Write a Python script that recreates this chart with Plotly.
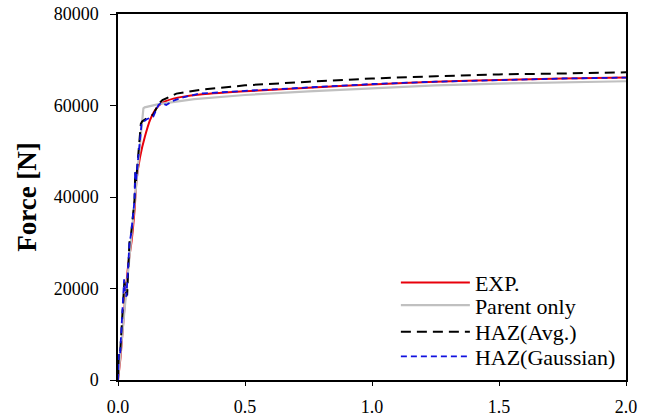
import plotly.graph_objects as go

# Displacement [mm] and force [N]
exp_x = [0.0, 0.01, 0.02, 0.03, 0.04, 0.054, 0.065, 0.073, 0.087, 0.106, 0.126, 0.146, 0.172, 0.218, 0.323, 0.5, 0.75, 1.0, 1.25, 1.5, 1.75, 2.0]
exp_y = [0, 5000, 12000, 19000, 25000, 30600, 37000, 43700, 48800, 53200, 56800, 59000, 60500, 61500, 62400, 63100, 63900, 64600, 65200, 65600, 65900, 66100]

parent_x = [0.0, 0.05, 0.1, 0.105, 0.16, 0.3, 0.5, 0.75, 1.0, 1.25, 1.5, 1.75, 2.0]
parent_y = [0, 29700, 59400, 59600, 60300, 61400, 62300, 63100, 63800, 64400, 64800, 65100, 65300]

hazavg_x = [0.0, 0.003, 0.008, 0.012, 0.02, 0.025, 0.03, 0.036, 0.04, 0.045, 0.052, 0.058, 0.065, 0.068, 0.071, 0.075, 0.083, 0.09, 0.095, 0.113, 0.139, 0.159, 0.175, 0.2, 0.23, 0.32, 0.5, 0.75, 1.0, 1.25, 1.5, 1.75, 2.0]
hazavg_y = [0, 5800, 5500, 9000, 18500, 21500, 19500, 18500, 24000, 30000, 32100, 35700, 39300, 45500, 43500, 46000, 51000, 56000, 56500, 57200, 58000, 60300, 61200, 61900, 62600, 63400, 64400, 65200, 65900, 66400, 66800, 67000, 67250]

hazgau_x = [0.0, 0.003, 0.008, 0.012, 0.02, 0.024, 0.028, 0.033, 0.04, 0.045, 0.052, 0.058, 0.065, 0.068, 0.071, 0.075, 0.083, 0.093, 0.113, 0.139, 0.159, 0.172, 0.19, 0.215, 0.257, 0.32, 0.5, 0.75, 1.0, 1.25, 1.5, 1.75, 2.0]
hazgau_y = [0, 5800, 5500, 9000, 18000, 22000, 19000, 18200, 24800, 29900, 32100, 35700, 39300, 45800, 43500, 46000, 51000, 56100, 57000, 57600, 60100, 60600, 60100, 61000, 61800, 62600, 63200, 63900, 64700, 65200, 65600, 65900, 66100]

x_ticks = [0.0, 0.5, 1.0, 1.5, 2.0]
y_ticks = [0, 20000, 40000, 60000, 80000]

FONT = "Liberation Serif"

fig = go.Figure()
fig.add_trace(go.Scatter(x=exp_x, y=exp_y, mode="lines", name="EXP.", legend="legend",
                         line=dict(color="#e8000b", width=2, shape="spline", smoothing=0.6)))
fig.add_trace(go.Scatter(x=parent_x, y=parent_y, mode="lines", name="Parent only", legend="legend2",
                         line=dict(color="#c0c0c0", width=2.2)))
fig.add_trace(go.Scatter(x=hazavg_x, y=hazavg_y, mode="lines", name="HAZ(Avg.)", legend="legend3",
                         line=dict(color="#000000", width=2, dash="10px,6px")))
fig.add_trace(go.Scatter(x=hazgau_x, y=hazgau_y, mode="lines", name="HAZ(Gaussian)", legend="legend4",
                         line=dict(color="#1010e0", width=1.8, dash="6px,4px")))

leg_common = dict(x=0.547, xanchor="left", yanchor="middle", bgcolor="rgba(0,0,0,0)",
                  font=dict(family=FONT, size=22, color="black"), itemwidth=69)

fig.update_layout(
    width=653, height=419,
    margin=dict(l=118, r=27, t=14, b=39, autoexpand=False),
    paper_bgcolor="white", plot_bgcolor="white",
    font=dict(family=FONT, size=17, color="black"),
    showlegend=True,
    legend=dict(y=0.266, **leg_common),
    legend2=dict(y=0.204, **leg_common),
    legend3=dict(y=0.131, **leg_common),
    legend4=dict(y=0.064, **leg_common),
)
fig.update_xaxes(range=[0, 2.0], tickvals=x_ticks, tickformat=".1f",
                 showline=True, linecolor="black", linewidth=1.5, mirror=True,
                 ticks="outside", ticklen=4, tickcolor="black", showgrid=False, zeroline=False,
                 ticklabelstandoff=6, tickfont=dict(family=FONT, size=18))
fig.update_yaxes(range=[0, 80000], tickvals=y_ticks, tickformat="d",
                 showline=True, linecolor="black", linewidth=1.5, mirror=True,
                 ticks="outside", ticklen=6, tickcolor="black", showgrid=False, zeroline=False,
                 ticklabelstandoff=8, tickfont=dict(family=FONT, size=18),
                 title=dict(text="<b>Force [N]</b>", font=dict(family=FONT, size=27), standoff=9))

fig.write_html("out.html", config={"displayModeBar": False},
               post_script="document.body.style.margin='0';document.body.style.overflow='hidden';")
